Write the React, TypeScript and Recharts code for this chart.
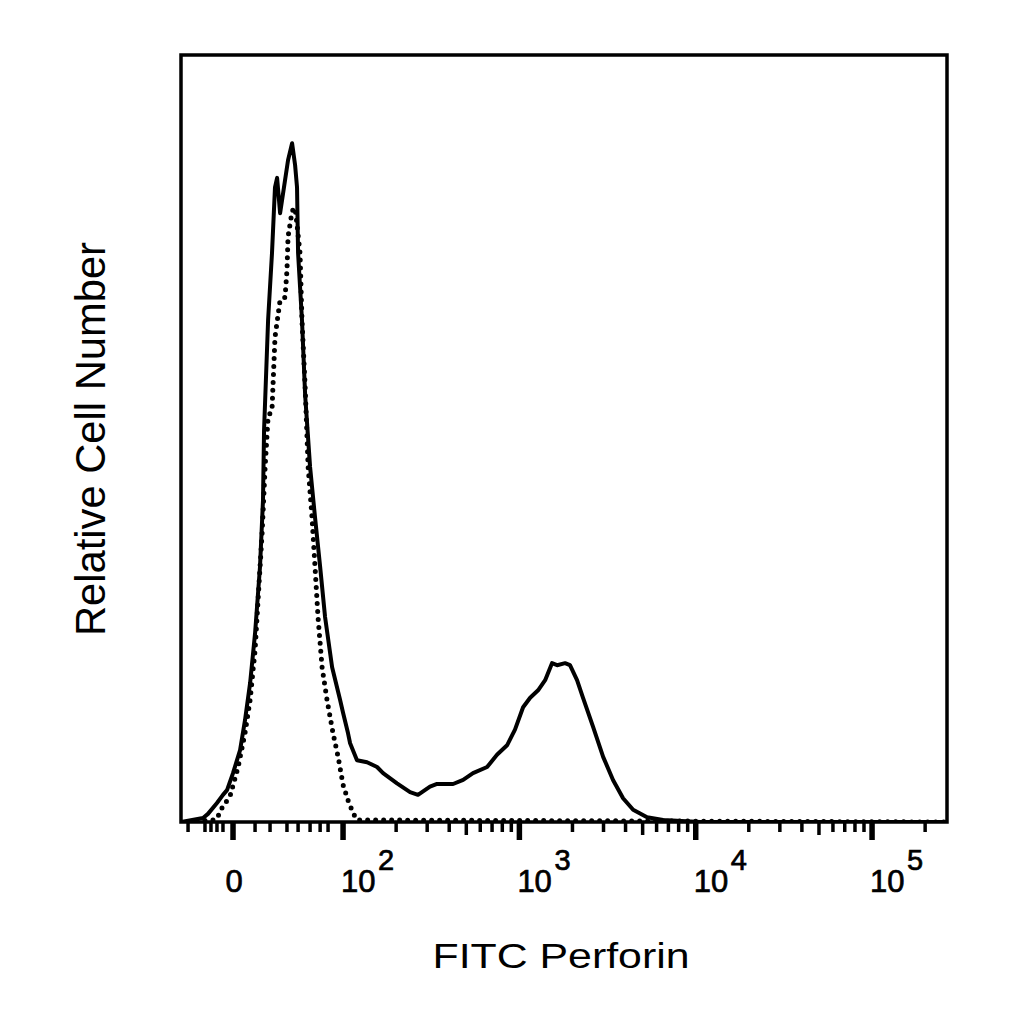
import { LineChart, Line, XAxis, YAxis, ReferenceArea } from "recharts"

// x in display units: decade position on the biexponential axis (2 = 10^2, 3 = 10^3 ...)
const U_MIN = 1.081
const U_MAX = 5.425
const COUNT_MAX = 113

// solid histogram (stained)
const solidU = [
  1.081, 1.206, 1.234, 1.285, 1.319, 1.342, 1.376, 1.416, 1.444, 1.473, 1.501, 1.529,
  1.546, 1.552, 1.575, 1.597, 1.614, 1.626, 1.643, 1.688, 1.711, 1.728, 1.739, 1.745,
  1.767, 1.785, 1.813, 1.841, 1.870, 1.898, 1.938, 1.983, 2.0, 2.028, 2.040, 2.079,
  2.136, 2.193, 2.227, 2.306, 2.380, 2.425, 2.493, 2.533, 2.624, 2.681, 2.737, 2.817,
  2.873, 2.930, 2.975, 3.021, 3.061, 3.106, 3.146, 3.185, 3.214, 3.259, 3.287, 3.327,
  3.361, 3.418, 3.475, 3.531, 3.588, 3.645, 3.724, 3.815, 4.025, 5.425,
]
const solidCount = [
  0, 0.6, 1.2, 2.8, 4.0, 4.7, 7.2, 10.6, 15.0, 20.5, 27.8, 37.6,
  47.4, 57.7, 74.0, 83.8, 93.5, 94.9, 89.7, 97.5, 100, 96.8, 93.5, 83.8,
  74.0, 62.9, 52.3, 44.9, 37.6, 30.2, 22.8, 18.0, 16.1, 13.1, 11.6, 9.1,
  8.8, 8.1, 7.2, 5.7, 4.4, 4.0, 5.2, 5.6, 5.6, 6.2, 7.2, 8.1,
  9.9, 11.3, 13.6, 16.9, 18.3, 19.4, 20.9, 23.4, 23.1, 23.4, 23.1, 20.9,
  18.3, 14.0, 9.6, 6.2, 3.5, 1.8, 0.7, 0.3, 0, 0,
]

// dotted histogram (isotype control)
const dottedU = [
  1.081, 1.274, 1.302, 1.314, 1.359, 1.405, 1.444, 1.473, 1.501, 1.518, 1.541, 1.558,
  1.575, 1.597, 1.614, 1.643, 1.671, 1.682, 1.688, 1.711, 1.728, 1.739, 1.756, 1.767,
  1.785, 1.802, 1.824, 1.841, 1.858, 1.881, 1.909, 1.943, 1.972, 2.0, 2.028, 2.057,
  2.079, 5.425,
]
const dottedCount = [
  0, 0.3, 1.3, 2.1, 3.8, 8.1, 13.1, 18.0, 25.3, 32.7, 42.6, 52.3,
  59.7, 60.7, 71.4, 76.9, 77.3, 81.3, 86.2, 90.0, 90.5, 88.0, 83.8, 74.0,
  64.1, 52.3, 44.9, 37.6, 30.2, 22.8, 18.0, 13.1, 9.6, 5.5, 3.2, 1.3,
  0.3, 0,
]

// axis ticks
const lowTicks = [1.121, 1.217, 1.251, 1.285, 1.319, 1.501, 1.586, 1.682, 1.745, 1.813, 1.870, 1.915]
const zeroTick = 1.376
const decadeTicks = [2, 3, 4, 5]
const decadeExponents = ["2", "3", "4", "5"]
const minorMultipliers = [2, 3, 4, 5, 6, 7, 8, 9]

const logTicks: number[] = []
decadeTicks.forEach((d) => {
  minorMultipliers.forEach((m) => {
    const u = d + Math.log10(m)
    if (u < U_MAX) logTicks.push(u)
  })
})

const allTicks = [...lowTicks, zeroTick, ...decadeTicks, ...logTicks].sort((a, b) => a - b)

const solidData = solidU.map((u, i) => ({ u, v: solidCount[i] }))
const dottedData = dottedU.map((u, i) => ({ u, v: dottedCount[i] }))

const FONT = "'Liberation Sans', Arial, Helvetica, sans-serif"

const near = (a: number, b: number) => Math.abs(a - b) < 0.0005

const labelStyle = {
  fontFamily: FONT,
  fontSize: 31,
  fill: "#000",
  stroke: "#000",
  strokeWidth: 0.7,
}

function FlowTick(props: any) {
  const { x, y, payload } = props
  const v = payload.value as number
  const decadeIdx = decadeTicks.findIndex((d) => near(d, v))
  const isZero = near(v, zeroTick)
  const isMid = decadeTicks.some((d) => near(d + Math.log10(5), v))

  let len = 10
  let w = 3.5
  if (decadeIdx >= 0 || isZero) {
    len = 18
    w = 5.5
  } else if (isMid) {
    len = 13
  }

  return (
    <g>
      <line x1={x} x2={x} y1={y} y2={y + len} stroke="#000" strokeWidth={w} />
      {isZero && (
        <text x={x + 1} y={y + 70} textAnchor="middle" style={labelStyle}>
          0
        </text>
      )}
      {decadeIdx >= 0 && (
        <g>
          <text x={x - 2} y={y + 70} textAnchor="start" style={labelStyle}>
            10
          </text>
          <text x={x + 35} y={y + 48} textAnchor="start" style={{ ...labelStyle, fontSize: 29 }}>
            {decadeExponents[decadeIdx]}
          </text>
        </g>
      )}
    </g>
  )
}

export default function App() {
  return (
    <div style={{ position: "absolute", left: 0, top: 0, width: 1024, height: 1024, background: "#fff" }}>
      <LineChart
        width={1024}
        height={1024}
        margin={{ top: 55, right: 77, bottom: 0, left: 0 }}
      >
        <XAxis
          dataKey="u"
          type="number"
          domain={[U_MIN, U_MAX]}
          allowDataOverflow
          ticks={allTicks}
          interval={0}
          height={202}
          tickSize={0}
          tickMargin={0}
          axisLine={false}
          tickLine={false}
          tick={<FlowTick />}
          label={{
            content: () => (
              <text
                x={561}
                y={968}
                textAnchor="middle"
                fontFamily={FONT}
                fontSize={35}
                fill="#000"
                textLength={257}
                lengthAdjust="spacingAndGlyphs"
              >
                FITC Perforin
              </text>
            ),
          }}
        />
        <YAxis
          type="number"
          domain={[0, COUNT_MAX]}
          allowDataOverflow
          width={181}
          tick={false}
          axisLine={false}
          tickLine={false}
          label={{
            content: () => (
              <text
                x={105}
                y={439}
                transform="rotate(-90, 105, 439)"
                textAnchor="middle"
                fontFamily={FONT}
                fontSize={42}
                fill="#000"
                textLength={394}
                lengthAdjust="spacingAndGlyphs"
              >
                Relative Cell Number
              </text>
            ),
          }}
        />
        <ReferenceArea
          x1={U_MIN}
          x2={U_MAX}
          y1={0}
          y2={COUNT_MAX}
          fill="none"
          fillOpacity={0}
          stroke="#000"
          strokeWidth={3.5}
        />
        <Line
          data={dottedData}
          dataKey="v"
          type="linear"
          stroke="#000"
          strokeWidth={5}
          strokeDasharray="0 8"
          strokeLinecap="round"
          dot={false}
          activeDot={false}
          isAnimationActive={false}
        />
        <Line
          data={solidData}
          dataKey="v"
          type="linear"
          stroke="#000"
          strokeWidth={4}
          strokeLinejoin="round"
          dot={false}
          activeDot={false}
          isAnimationActive={false}
        />
      </LineChart>
    </div>
  )
}
